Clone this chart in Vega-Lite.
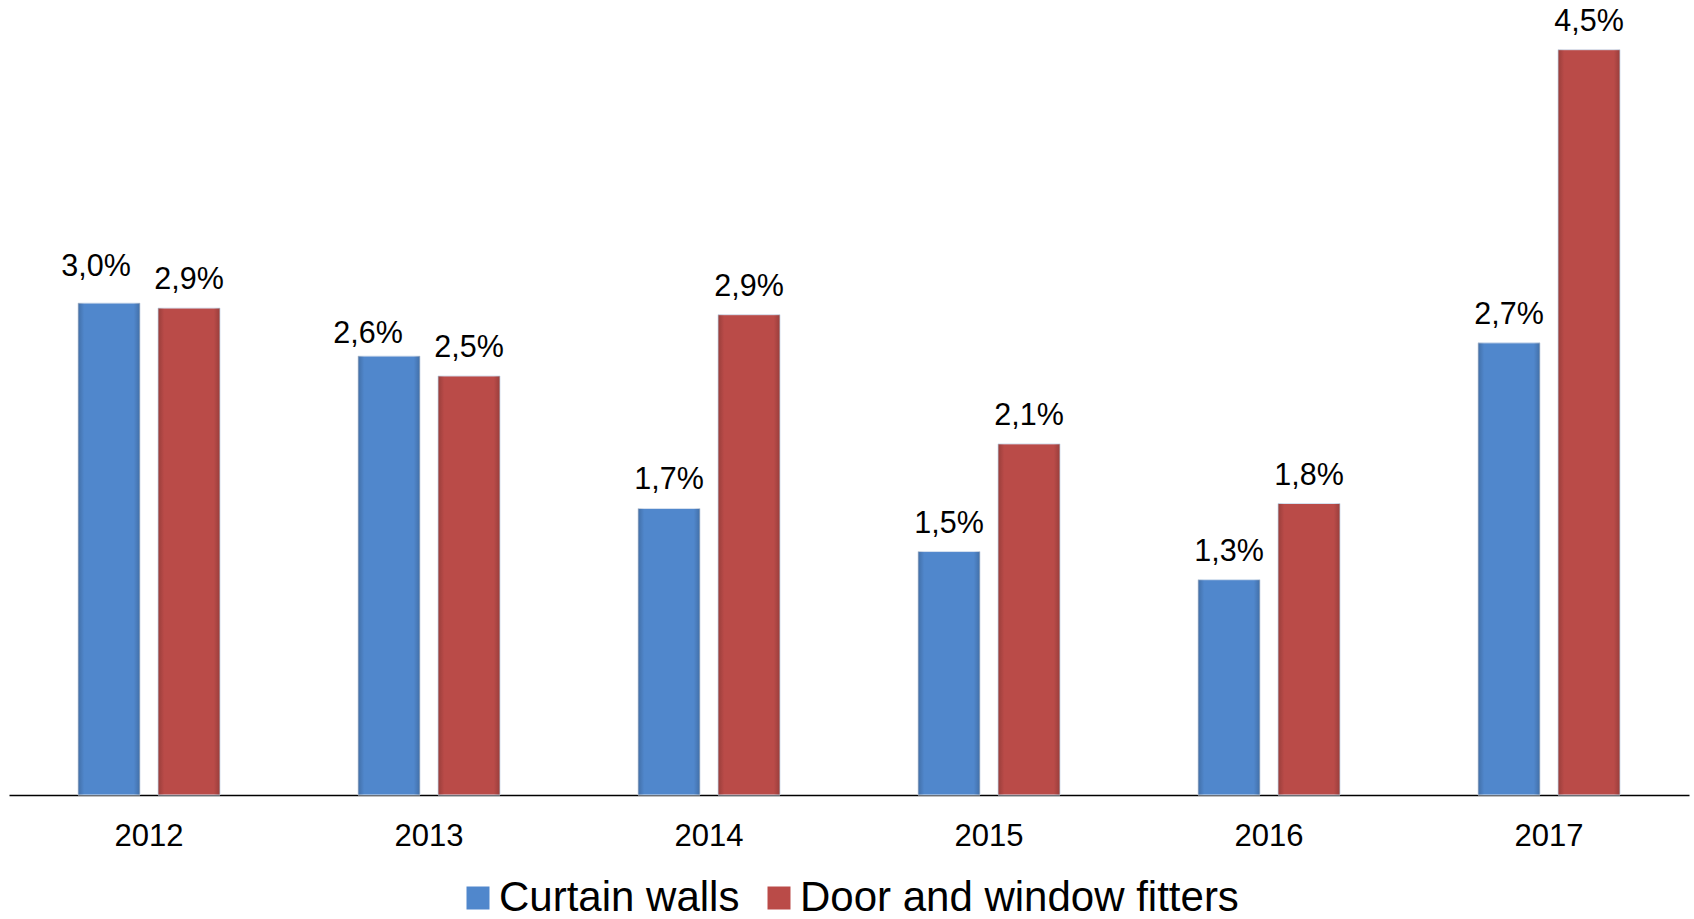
{
  "$schema": "https://vega.github.io/schema/vega-lite/v6.json",
  "width": 1680,
  "height": 795,
  "autosize": {"type": "none"},
  "padding": {"left": 9, "top": 0, "right": 5, "bottom": 124},
  "background": "#ffffff",
  "config": {
    "view": {"stroke": null},
    "font": "Liberation Sans"
  },
  "data": {
    "values": [
      {"year": "2012", "series": "Curtain walls", "value": 2.97, "label": "3,0%"},
      {"year": "2012", "series": "Door and window fitters", "value": 2.94, "label": "2,9%"},
      {"year": "2013", "series": "Curtain walls", "value": 2.65, "label": "2,6%"},
      {"year": "2013", "series": "Door and window fitters", "value": 2.53, "label": "2,5%"},
      {"year": "2014", "series": "Curtain walls", "value": 1.73, "label": "1,7%"},
      {"year": "2014", "series": "Door and window fitters", "value": 2.9, "label": "2,9%"},
      {"year": "2015", "series": "Curtain walls", "value": 1.47, "label": "1,5%"},
      {"year": "2015", "series": "Door and window fitters", "value": 2.12, "label": "2,1%"},
      {"year": "2016", "series": "Curtain walls", "value": 1.3, "label": "1,3%"},
      {"year": "2016", "series": "Door and window fitters", "value": 1.76, "label": "1,8%"},
      {"year": "2017", "series": "Curtain walls", "value": 2.73, "label": "2,7%"},
      {"year": "2017", "series": "Door and window fitters", "value": 4.5, "label": "4,5%"}
    ]
  },
  "encoding": {
    "x": {
      "field": "year", "type": "nominal",
      "scale": {"paddingInner": 0, "paddingOuter": 0},
      "axis": {
        "title": null, "labelAngle": 0, "ticks": false, "grid": false,
        "domainColor": "#000000", "domainWidth": 1.5,
        "labelFont": "Liberation Sans", "labelFontSize": 31, "labelColor": "#000000",
        "labelBaseline": "alphabetic", "labelPadding": 50
      }
    },
    "xOffset": {
      "field": "series", "type": "nominal",
      "scale": {"paddingInner": 0.225, "paddingOuter": 0.8625}
    },
    "y": {
      "field": "value", "type": "quantitative",
      "scale": {"domain": [0, 4.8], "nice": false},
      "axis": null
    }
  },
  "layer": [
    {
      "mark": {"type": "bar", "stroke": "#d6e0ee", "strokeWidth": 1},
      "encoding": {
        "color": {
          "field": "series", "type": "nominal",
          "scale": {"domain": ["Curtain walls", "Door and window fitters"], "range": ["#5087CC", "#BA4B48"]},
          "legend": {
            "title": null, "orient": "none", "direction": "horizontal",
            "legendX": 448, "legendY": 877,
            "symbolType": "square", "symbolSize": 529, "symbolStrokeWidth": 0,
            "labelFont": "Liberation Sans", "labelFontSize": 42, "labelColor": "#000000",
            "labelOffset": 0, "columnPadding": 18, "labelLimit": 800
          }
        }
      }
    },
    {
      "mark": {
        "type": "bar",
        "color": {
          "gradient": "linear", "x1": 0, "y1": 0, "x2": 1, "y2": 0,
          "stops": [
            {"offset": 0, "color": "rgba(0,0,0,0.18)"},
            {"offset": 0.1, "color": "rgba(0,0,0,0)"},
            {"offset": 0.9, "color": "rgba(0,0,0,0)"},
            {"offset": 1, "color": "rgba(0,0,0,0.18)"}
          ]
        }
      },
      "encoding": {}
    },
    {
      "transform": [{"filter": "!(datum.year == '2012' && datum.series == 'Curtain walls') && !(datum.year == '2013' && datum.series == 'Curtain walls')"}],
      "mark": {"type": "text", "baseline": "alphabetic", "dy": -19, "fontSize": 30.5, "color": "#000000"},
      "encoding": {"text": {"field": "label"}}
    },
    {
      "transform": [{"filter": "datum.year == '2012' && datum.series == 'Curtain walls'"}],
      "mark": {"type": "text", "baseline": "alphabetic", "dy": -27, "dx": -13, "fontSize": 30.5, "color": "#000000"},
      "encoding": {"text": {"field": "label"}}
    },
    {
      "transform": [{"filter": "datum.year == '2013' && datum.series == 'Curtain walls'"}],
      "mark": {"type": "text", "baseline": "alphabetic", "dy": -13, "dx": -21, "fontSize": 30.5, "color": "#000000"},
      "encoding": {"text": {"field": "label"}}
    }
  ]
}
